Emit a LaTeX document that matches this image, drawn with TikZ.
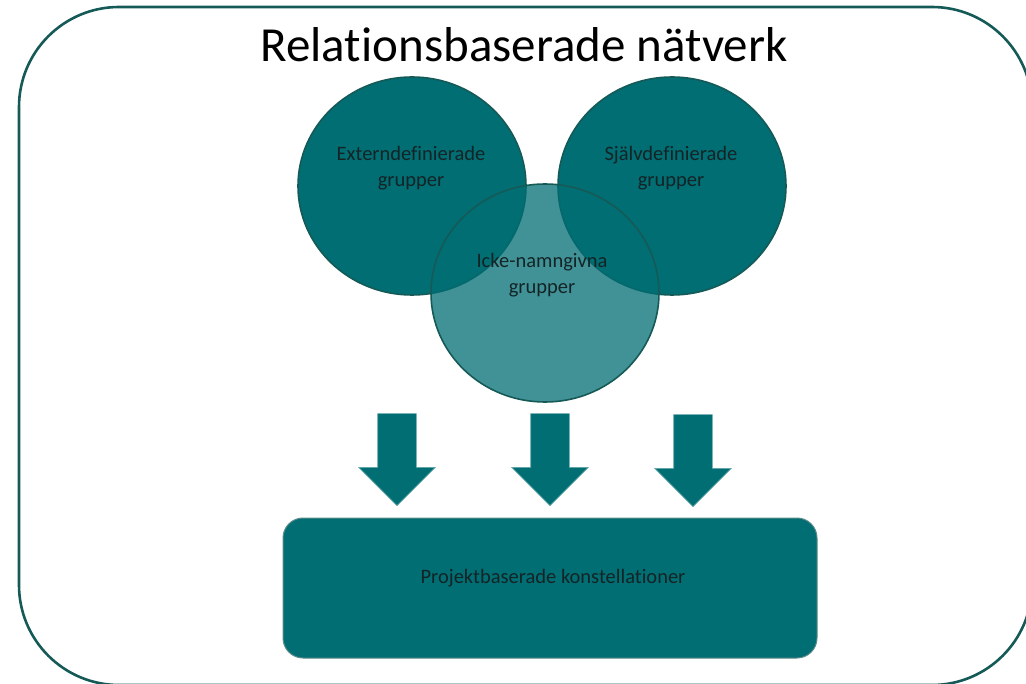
\documentclass[tikz,border=0pt]{standalone}
\usepackage{fontspec}
\setmainfont{Carlito}[Ligatures=NoCommon]
\usetikzlibrary{shapes.geometric,shapes.arrows}
\definecolor{tealfill}{RGB}{0,110,115}
\definecolor{tealline}{RGB}{22,90,88}
\definecolor{txtdark}{RGB}{20,36,38}
\begin{document}
\begin{tikzpicture}[x=1pt,y=-1pt,
        frame/.style={draw=tealline,line width=2.6pt,rounded corners=100pt},
        grp/.style={ellipse,draw=tealline,line width=1.6pt,fill=tealfill,minimum width=228pt,minimum height=218pt,inner sep=0pt},
        lbl/.style={text=txtdark,font=\fontsize{20.5}{26}\selectfont,align=center},
        down/.style={single arrow,rotate=-90,fill=tealfill,draw=tealfill!60,line width=0.6pt,minimum height=92pt,minimum width=76pt,single arrow head extend=19pt,inner sep=0pt,inner ysep=19pt}
      ]
      \useasboundingbox (0,0) rectangle (1026,684);
      \clip (0,0) rectangle (1026,684);
      \draw[frame] (19,7) rectangle (1032,685);
      \node[font=\fontsize{49}{58}\selectfont] (title) at (524,45) {Relationsbaserade nätverk};
      \node[grp] (ext) at (412,186) {};
      \node[grp] (self) at (672,186) {};
      \node[grp,fill opacity=0.75] (anon) at (545,293) {};
      \node[lbl] (extlbl) at (411,168) {Externdefinierade\\grupper};
      \node[lbl] (selflbl) at (671,168) {Självdefinierade\\grupper};
      \node[lbl] (anonlbl) at (542,275) {Icke-namngivna\\grupper};
      \node[down] (arr1) at (397,450) {};
      \node[down] (arr2) at (550,450) {};
      \node[down] (arr3) at (693,451) {};
      \node[draw=tealline!70,line width=1pt,fill=tealfill,rounded corners=20pt,minimum width=534pt,minimum height=140pt] (proj) at (550,588) {};
      \node[lbl] (projlbl) at (553,578) {Projektbaserade konstellationer};
    \end{tikzpicture}
\end{document}
